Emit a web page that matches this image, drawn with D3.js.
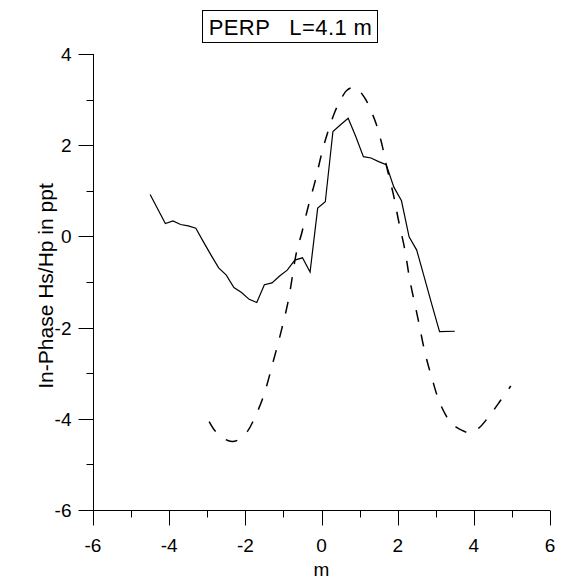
<!DOCTYPE html>
<html><head><meta charset="utf-8">
<script src="https://d3js.org/d3.v7.min.js"></script>
<style>body{margin:0;background:#fff;} text{font-family:"Liberation Sans",Arial,sans-serif;fill:#000;}</style>
</head><body>
<script>
const titleText = "PERP   L=4.1 m";
const xLabel = "m";
const yLabel = "In-Phase Hs/Hp in ppt";
const xTicks = [-6,-4,-2,0,2,4,6];
const yTicks = [-6,-4,-2,0,2,4];
// measured (solid)
const measX = [-4.5,-4.1,-3.9,-3.7,-3.5,-3.3,-3.1,-2.9,-2.7,-2.5,-2.3,-2.1,-1.9,-1.7,-1.5,-1.3,-1.1,-0.9,-0.7,-0.5,-0.3,-0.1,0.1,0.3,0.5,0.7,0.9,1.1,1.3,1.5,1.7,1.9,2.1,2.3,2.5,2.7,2.9,3.1,3.5];
const measY = [0.92,0.28,0.34,0.26,0.23,0.18,-0.12,-0.41,-0.69,-0.85,-1.12,-1.23,-1.38,-1.45,-1.06,-1.02,-0.87,-0.74,-0.52,-0.47,-0.78,0.62,0.76,2.30,2.45,2.59,2.19,1.75,1.72,1.64,1.57,1.08,0.78,-0.01,-0.30,-0.90,-1.50,-2.09,-2.08];
// model (dashed)
const modX = [-2.95,-2.78,-2.55,-2.35,-2.18,-1.94,-1.79,-1.53,-1.27,-1.05,-0.87,-0.65,-0.52,-0.35,-0.17,0.0,0.14,0.35,0.49,0.66,0.88,1.14,1.27,1.43,1.58,1.71,1.89,2.02,2.19,2.32,2.54,2.72,2.89,3.11,3.37,3.51,3.86,4.12,4.42,4.70,4.97];
const modY = [-4.06,-4.28,-4.44,-4.50,-4.46,-4.27,-4.04,-3.52,-2.75,-2.05,-1.40,-0.32,0.07,0.65,1.20,1.80,2.22,2.73,2.97,3.20,3.27,3.03,2.81,2.48,2.04,1.53,0.91,0.36,-0.30,-0.96,-1.83,-2.56,-3.08,-3.66,-4.06,-4.17,-4.30,-4.21,-3.92,-3.60,-3.28];

const W=565,H=582;
const svg=d3.select("body").append("svg").attr("width",W).attr("height",H);
const x=d3.scaleLinear().domain([-6,6]).range([93,550]);
const y=d3.scaleLinear().domain([-6,4]).range([510,54]);

// axes
const xMinor=d3.range(-5,6,2);
const yMinor=d3.range(-5,4,2);
const gx=svg.append("g").attr("transform","translate(0,510.5)");
gx.append("line").attr("x1",x(-6)).attr("x2",x(6)).attr("stroke","#000");
gx.selectAll(".mj").data(xTicks).join("line").attr("x1",d=>Math.round(x(d))+0.5).attr("x2",d=>Math.round(x(d))+0.5).attr("y1",0).attr("y2",15).attr("stroke","#000");
gx.selectAll(".mn").data(xMinor).join("line").attr("x1",d=>Math.round(x(d))+0.5).attr("x2",d=>Math.round(x(d))+0.5).attr("y1",0).attr("y2",7).attr("stroke","#000");
gx.selectAll("text").data(xTicks).join("text").attr("x",d=>x(d)).attr("y",41).attr("text-anchor","middle").attr("font-size",19).text(d=>d);

const gy=svg.append("g").attr("transform","translate(93.5,0)");
gy.append("line").attr("y1",y(-6)).attr("y2",y(4)).attr("stroke","#000");
gy.selectAll(".mj").data(yTicks).join("line").attr("y1",d=>Math.round(y(d))+0.5).attr("y2",d=>Math.round(y(d))+0.5).attr("x1",0).attr("x2",-15).attr("stroke","#000");
gy.selectAll(".mn").data(yMinor).join("line").attr("y1",d=>Math.round(y(d))+0.5).attr("y2",d=>Math.round(y(d))+0.5).attr("x1",0).attr("x2",-7).attr("stroke","#000");
gy.selectAll("text").data(yTicks).join("text").attr("x",-22).attr("y",d=>y(d)+7).attr("text-anchor","end").attr("font-size",19).text(d=>d);

svg.append("text").attr("x",x(0)).attr("y",576).attr("text-anchor","middle").attr("font-size",19).text(xLabel);
svg.append("text").attr("transform","translate(53,286) rotate(-90)").attr("text-anchor","middle").attr("font-size",21).text(yLabel);

// lines
const line=d3.line().x(d=>x(d[0])).y(d=>y(d[1]));
svg.append("path").datum(measX.map((v,i)=>[v,measY[i]])).attr("d",line).attr("fill","none").attr("stroke","#000").attr("stroke-width",1.2);
svg.append("path").datum(modX.map((v,i)=>[v,modY[i]])).attr("d",line.curve(d3.curveCatmullRom)).attr("fill","none").attr("stroke","#000").attr("stroke-width",1.5).attr("stroke-dasharray","12,13");

// title
svg.append("text").attr("x",290.5).attr("y",35).attr("text-anchor","middle").attr("font-size",22).attr("letter-spacing",0.4).attr("xml:space","preserve").style("white-space","pre").text(titleText);
svg.append("rect").attr("x",202.5).attr("y",10.5).attr("width",175).attr("height",32).attr("fill","none").attr("stroke","#000");
</script>
</body></html>
